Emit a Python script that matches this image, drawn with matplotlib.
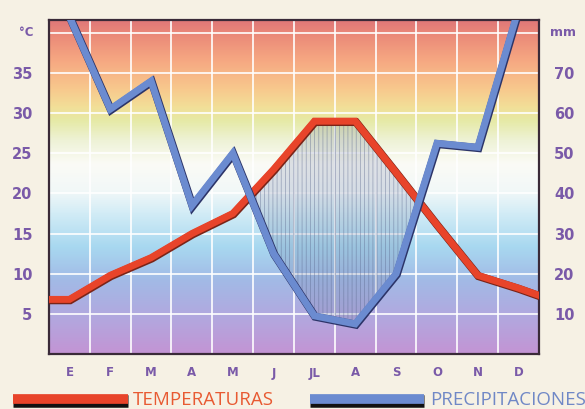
import numpy as np
import matplotlib
matplotlib.use("Agg")
import matplotlib.pyplot as plt
import matplotlib.patheffects as pe
from matplotlib.colors import LinearSegmentedColormap
from matplotlib.lines import Line2D

# climograph data
months = ["E", "F", "M", "A", "M", "J", "JL", "A", "S", "O", "N", "D"]
temp = [6.8, 9.8, 12.0, 15.0, 17.5, 23.0, 29.0, 29.0, 22.6, 16.1, 9.8, 8.2]
precip = [84, 61, 68, 37, 50, 25, 9.5, 7.5, 20, 52.5, 51.5, 86]
# values where the lines meet the left / right frame
temp_edges = [6.8, 7.3]
precip_edges = [96, 100]

temp_ticks = [5, 10, 15, 20, 25, 30, 35]
precip_ticks = [10, 20, 30, 40, 50, 60, 70]

purple = "#7a5aa8"
red = "#e8442a"
blue = "#6b8bd0"

fig = plt.figure(figsize=(5.85, 4.09), dpi=100, facecolor="#f6f1e4")
ax = fig.add_axes([49/585, 55/409, 490/585, 334/409])

tmax = 41.6
xm = np.arange(12) + 0.5
x_line = np.r_[0, xm, 12]
t_line = np.r_[temp_edges[0], temp, temp_edges[1]]
p_line = np.r_[precip_edges[0], precip, precip_edges[1]] / 2.0

# background colour gradient (bottom -> top)
grad = LinearSegmentedColormap.from_list("clima", [
    (0.00, "#c394d4"),
    (0.10, "#b3a6de"),
    (0.22, "#a2bae6"),
    (0.32, "#a8d8f0"),
    (0.42, "#d2ecf6"),
    (0.49, "#f2f8f8"),
    (0.57, "#fbfbf6"),
    (0.64, "#eef2d6"),
    (0.70, "#e6eaa6"),
    (0.74, "#f2df98"),
    (0.80, "#f8c68c"),
    (0.88, "#f6a882"),
    (0.96, "#ea8878"),
    (1.00, "#e07878"),
])
ax.imshow(np.linspace(0, 1, 256).reshape(-1, 1), cmap=grad, origin="lower",
          extent=[0, 12, 0, tmax], aspect="auto", zorder=0)

# grid
for v in range(5, 45, 5):
    ax.axhline(v, color="white", lw=1.4, alpha=0.85, zorder=1)
for v in range(1, 12):
    ax.axvline(v, color="white", lw=1.4, alpha=0.85, zorder=1)

# dry season hatch
plt.rcParams["hatch.linewidth"] = 0.6
ax.fill_between(x_line, t_line, p_line, where=t_line >= p_line,
                interpolate=True, facecolor=(0.45, 0.5, 0.65, 0.22),
                hatch="||||", edgecolor=(0.35, 0.4, 0.55, 0.45),
                linewidth=0, zorder=2)

ax.plot(x_line, t_line, color=red, lw=5, solid_joinstyle="miter",
        path_effects=[pe.Stroke(linewidth=5.8, foreground="#7a2418",
                                offset=(0.5, -0.6)), pe.Normal()], zorder=3)
ax.plot(x_line, p_line, color=blue, lw=5, solid_joinstyle="miter",
        path_effects=[pe.Stroke(linewidth=5.8, foreground="#2c3468",
                                offset=(0.5, -0.6)), pe.Normal()], zorder=4)

ax.set_xlim(0, 12)
ax.set_ylim(0, tmax)
ax.set_xticks(xm)
ax.set_xticklabels(months)
ax.set_yticks(temp_ticks)
ax.set_yticklabels([str(t) for t in temp_ticks])
ax.tick_params(length=0, colors=purple, labelsize=10.5, pad=12)
ax.tick_params(axis="x", labelsize=8.5, pad=9)
for lab in ax.get_xticklabels() + ax.get_yticklabels():
    lab.set_fontweight("bold")
for s in ax.spines.values():
    s.set_color("#3a2a38")
    s.set_linewidth(1.6)

ax2 = ax.twinx()
ax2.set_ylim(0, tmax * 2)
ax2.set_yticks(precip_ticks)
ax2.set_yticklabels([str(p) for p in precip_ticks])
ax2.tick_params(length=0, colors=purple, labelsize=10.5, pad=11)
for lab in ax2.get_yticklabels():
    lab.set_fontweight("bold")
for s in ax2.spines.values():
    s.set_visible(False)

ax.text(-0.55, 40, "°C", color=purple, fontsize=8.5, fontweight="bold",
        ha="center", va="center")
ax.text(12.58, 40, "mm", color=purple, fontsize=9, fontweight="bold",
        ha="center", va="center")

# legend
leg_shadow = [pe.Stroke(linewidth=9, foreground="#111111", offset=(0, -1.5)),
              pe.Normal()]
handles = [Line2D([], [], color=red, lw=7, solid_capstyle="butt",
                  path_effects=leg_shadow),
           Line2D([], [], color=blue, lw=7, solid_capstyle="butt",
                  path_effects=leg_shadow)]
leg = fig.legend(handles, ["TEMPERATURAS", "PRECIPITACIONES"], ncol=2,
                 loc="lower left", bbox_to_anchor=(-0.006, -0.042),
                 frameon=False, handlelength=6.1, handletextpad=0.3,
                 columnspacing=1.9, prop={"family": "Open Sans", "size": 13.5})
leg.get_texts()[0].set_color("#e85a32")
leg.get_texts()[1].set_color("#7088c6")

fig.savefig("out.png", dpi=100, facecolor=fig.get_facecolor())
